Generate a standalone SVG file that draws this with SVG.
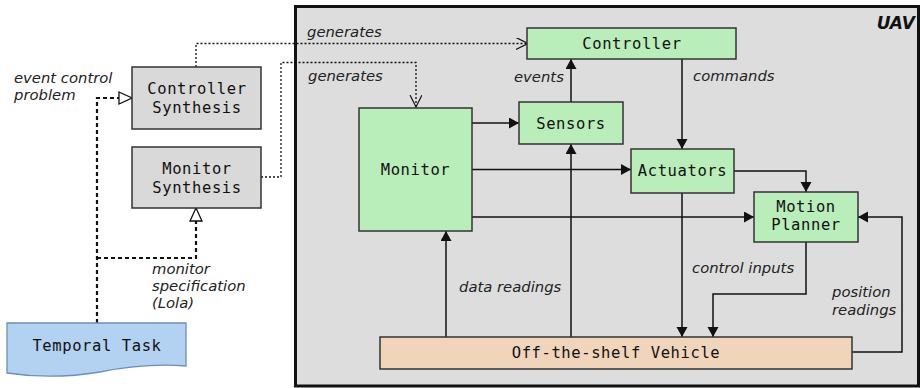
<svg xmlns="http://www.w3.org/2000/svg" width="920" height="388" viewBox="0 0 920 388">
<style>
.mono{font-family:"DejaVu Sans Mono","Liberation Mono",monospace;font-size:15.5px;letter-spacing:0.6px;fill:#111;text-anchor:middle}
.lbl{font-family:"DejaVu Sans","Liberation Sans",sans-serif;font-style:italic;font-size:14.8px;fill:#222}
.green{fill:#b9edb9;stroke:#333;stroke-width:1.5}
.grey{fill:#d9d9d9;stroke:#333;stroke-width:1.5}
.solid{fill:none;stroke:#111;stroke-width:1.5;marker-end:url(#arr)}
.dotted{fill:none;stroke:#111;stroke-width:1.3;stroke-dasharray:2,2}
.dashed{fill:none;stroke:#111;stroke-width:2.2;stroke-dasharray:4,3}
</style>
<defs>
<marker id="arr" markerUnits="userSpaceOnUse" markerWidth="11" markerHeight="12" refX="10" refY="5.5" orient="auto"><path d="M0,0 L10,5.5 L0,11 Z" fill="#111"/></marker>
<marker id="tri" markerUnits="userSpaceOnUse" markerWidth="16" markerHeight="16" refX="14" refY="7" orient="auto"><path d="M1,1 L14,7 L1,13 Z" fill="#fff" stroke="#111" stroke-width="1.3"/></marker>
<marker id="vee" markerUnits="userSpaceOnUse" markerWidth="14" markerHeight="14" refX="12" refY="6" orient="auto"><path d="M0,0 L12,6 L0,12" fill="none" stroke="#111" stroke-width="1.2"/></marker>
</defs>
<rect width="920" height="388" fill="#fff"/>
<g id="uav">
<rect x="295.5" y="6.5" width="623" height="379.5" fill="#dddddd" stroke="#111" stroke-width="3"/>
<text x="915" y="29" font-family="DejaVu Sans,sans-serif" font-style="italic" font-weight="bold" font-size="17" text-anchor="end" fill="#111">UAV</text>
</g>
<g id="connectors">
<path class="dotted" d="M196,67 V43.5 H528" marker-end="url(#vee)"/>
<path class="dotted" d="M261,177 H281 V62.5 H416 V107" marker-end="url(#vee)"/>
<path class="dashed" d="M97,323 V98 H132" marker-end="url(#tri)"/>
<path class="dashed" d="M97,258 H196 V208" marker-end="url(#tri)"/>
<path class="solid" d="M571,102 V59"/>
<path class="solid" d="M682,59 V149"/>
<path class="solid" d="M472,123 H519"/>
<path class="solid" d="M472,169.5 H631"/>
<path class="solid" d="M472,217 H754"/>
<path class="solid" d="M734,171 H806 V192"/>
<path class="solid" d="M446,337 V231"/>
<path class="solid" d="M571,337 V144"/>
<path class="solid" d="M682,193 V337"/>
<path class="solid" d="M806,242 V294 H713 V337"/>
<path class="solid" d="M852,352 H902 V217 H858"/>
<text class="lbl" x="307" y="37">generates</text>
<text class="lbl" x="308" y="81">generates</text>
<text class="lbl" x="514" y="82">events</text>
<text class="lbl" x="693" y="81">commands</text>
<text class="lbl" x="459" y="292">data readings</text>
<text class="lbl" x="692" y="273">control inputs</text>
<text class="lbl" x="832" y="297">position</text>
<text class="lbl" x="832" y="315">readings</text>
<text class="lbl" x="14" y="83">event control</text>
<text class="lbl" x="14" y="100">problem</text>
<text class="lbl" x="152" y="274">monitor</text>
<text class="lbl" x="152" y="291">specification</text>
<text class="lbl" x="152" y="308">(Lola)</text>
</g>
<g id="controller-synthesis">
<rect class="grey" x="132" y="67" width="129" height="62"/>
<text class="mono" x="197" y="94">Controller</text>
<text class="mono" x="197" y="113">Synthesis</text>
</g>
<g id="monitor-synthesis">
<rect class="grey" x="132" y="147" width="129" height="61"/>
<text class="mono" x="197" y="174">Monitor</text>
<text class="mono" x="197" y="193">Synthesis</text>
</g>
<g id="temporal-task">
<path d="M7,323 H186 V366 C160,364 130,366 100,372 C70,377 40,378 7,373 Z" fill="#b3d1f0" stroke="#6c8ebf" stroke-width="1.3"/>
<text class="mono" x="97" y="351">Temporal Task</text>
</g>
<g id="controller">
<rect class="green" x="527" y="28" width="209" height="31"/>
<text class="mono" x="632" y="49">Controller</text>
</g>
<g id="sensors">
<rect class="green" x="519" y="102" width="104" height="42"/>
<text class="mono" x="571" y="129">Sensors</text>
</g>
<g id="monitor">
<rect class="green" x="359" y="108" width="113" height="123"/>
<text class="mono" x="415.5" y="175">Monitor</text>
</g>
<g id="actuators">
<rect class="green" x="631" y="149" width="103" height="44"/>
<text class="mono" x="682.5" y="176">Actuators</text>
</g>
<g id="motion-planner">
<rect class="green" x="754" y="192" width="104" height="50"/>
<text class="mono" x="806" y="212">Motion</text>
<text class="mono" x="806" y="230">Planner</text>
</g>
<g id="vehicle">
<rect x="380" y="337" width="472" height="32" fill="#f0d5bb" stroke="#333" stroke-width="1.5"/>
<text class="mono" x="616" y="358">Off-the-shelf Vehicle</text>
</g>
</svg>
